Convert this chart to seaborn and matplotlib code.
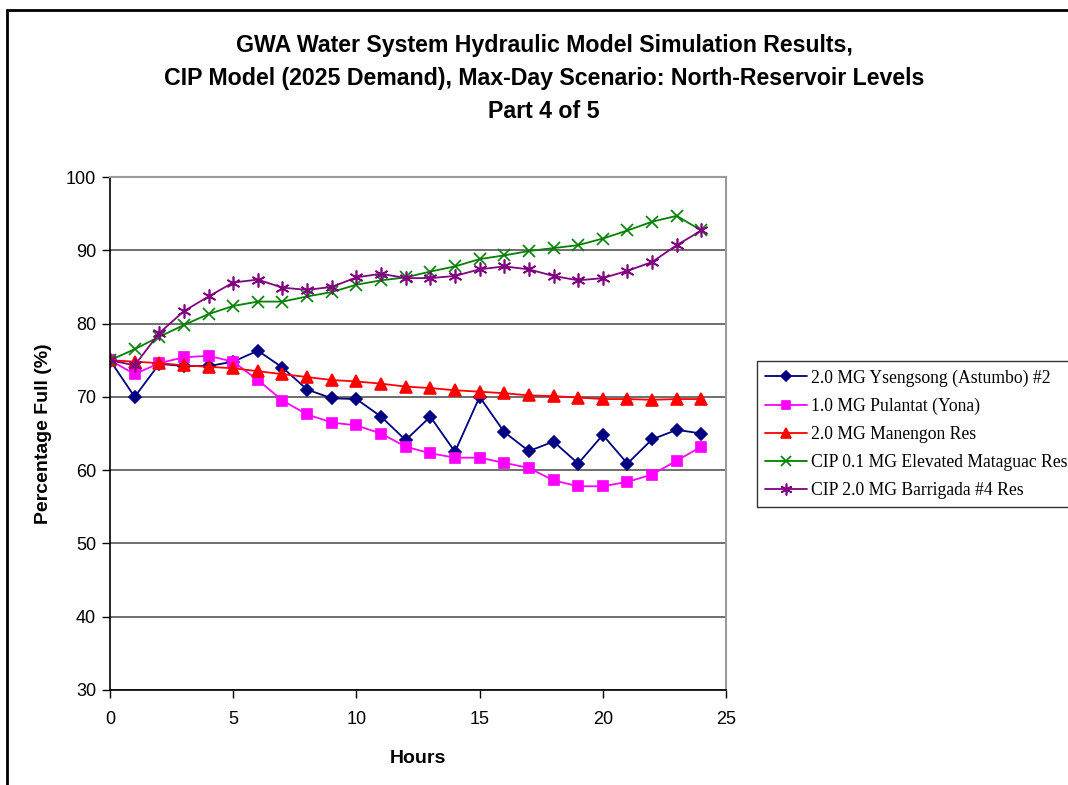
import numpy as np
import pandas as pd
import matplotlib
matplotlib.use("Agg")
import matplotlib.pyplot as plt
import seaborn as sns
from matplotlib.lines import Line2D

hours = list(range(25))
ysengsong = [75, 70, 74.5, 74.2, 74.2, 74.8, 76.3, 74, 71, 69.8, 69.7, 67.3, 64.1, 67.3, 62.5,
             70, 65.2, 62.6, 63.9, 60.9, 64.8, 60.9, 64.2, 65.5, 65]
pulantat = [75, 73.1, 74.6, 75.4, 75.6, 74.8, 72.3, 69.5, 67.6, 66.5, 66.1, 65, 63.2, 62.3, 61.7,
            61.7, 61, 60.3, 58.6, 57.8, 57.8, 58.4, 59.4, 61.3, 63.2]
manengon = [75, 74.8, 74.6, 74.3, 74.1, 73.9, 73.5, 73.1, 72.7, 72.3, 72.1, 71.8, 71.4, 71.2, 70.9,
            70.7, 70.5, 70.2, 70.1, 69.9, 69.7, 69.7, 69.6, 69.7, 69.7]
mataguac = [75, 76.5, 78.2, 79.8, 81.3, 82.4, 83, 83, 83.7, 84.3, 85.3, 85.9, 86.3, 87.1, 87.8,
            88.8, 89.3, 89.9, 90.3, 90.7, 91.6, 92.7, 93.9, 94.7, 92.7]
barrigada = [75, 74.3, 78.7, 81.7, 83.7, 85.6, 86, 84.9, 84.6, 85, 86.3, 86.8, 86.2, 86.2, 86.5,
             87.4, 87.8, 87.4, 86.5, 85.9, 86.2, 87.2, 88.4, 90.7, 92.7]

series_names = ["2.0 MG Ysengsong (Astumbo) #2", "1.0 MG Pulantat (Yona)", "2.0 MG Manengon Res",
                "CIP 0.1 MG Elevated Mataguac Res", "CIP 2.0 MG Barrigada #4 Res"]
series_values = [ysengsong, pulantat, manengon, mataguac, barrigada]
colors = ["#000080", "#FF00FF", "#FF0000", "#008000", "#800080"]
markers = ["D", "s", "^", "x", (6, 2, 0)]
msizes = [6.5, 7.5, 8.5, 9, 10]

title = ("GWA Water System Hydraulic Model Simulation Results,\n"
         "CIP Model (2025 Demand), Max-Day Scenario: North-Reservoir Levels\n"
         "Part 4 of 5")

sns.set_style("white")
plt.rcParams['font.family'] = ['Liberation Sans', 'DejaVu Sans']
plt.rcParams['text.color'] = 'black'
plt.rcParams['axes.labelcolor'] = 'black'

rows = []
for name, vals in zip(series_names, series_values):
    for h, v in zip(hours, vals):
        rows.append({"Hours": h, "Value": v, "Series": name})
df = pd.DataFrame(rows)

fig = plt.figure(figsize=(10.68, 7.85), dpi=100)
ax = fig.add_axes([110/1068, 1-690/785, (726-110)/1068, (690-177)/785])

for name, col, mk, ms in zip(series_names, colors, markers, msizes):
    sub = df[df["Series"] == name]
    sns.lineplot(data=sub, x="Hours", y="Value", ax=ax, color=col, marker=mk,
                 markersize=ms, linewidth=1.3, label=name,
                 markeredgecolor=col, markerfacecolor=col, markeredgewidth=1.2)

ax.set_xlim(0, 25)
ax.set_ylim(30, 100)
ax.set_xticks([0, 5, 10, 15, 20, 25])
ax.set_yticks([30, 40, 50, 60, 70, 80, 90, 100])
ax.yaxis.grid(True, color="#555555", linewidth=1.2)
ax.set_axisbelow(True)
ax.tick_params(axis="both", direction="out", length=6, width=1, colors="black",
               labelsize=13, left=True, bottom=True)
ax.tick_params(axis="x", pad=9)
ax.tick_params(axis="y", pad=4)
for s in ["left", "bottom"]:
    ax.spines[s].set_color("black")
    ax.spines[s].set_linewidth(1.2)
for s in ["top", "right"]:
    ax.spines[s].set_color("#999999")
    ax.spines[s].set_linewidth(1.5)

ax.set_xlabel("Hours", fontsize=14, fontweight="bold", labelpad=16)
ax.set_ylabel("Percentage Full (%)", fontsize=14, fontweight="bold", labelpad=10)

fig.text(544/1068, 1-78.5/785, title, ha="center", va="center", fontsize=16.7,
         fontweight="bold", linespacing=1.55, color="black")

leg = ax.legend(loc="center left", bbox_to_anchor=(757/1068, 1-434/785),
                bbox_transform=fig.transFigure, frameon=True, fancybox=False,
                edgecolor="black", prop={"family": "Liberation Serif", "size": 12.7},
                handlelength=2.4, labelspacing=0.62, borderpad=0.45, handletextpad=0.2,
                borderaxespad=0, markerscale=0.85)
leg.get_frame().set_linewidth(1.0)

fig.add_artist(Line2D([7/1068, 1.0], [1-10/785, 1-10/785], transform=fig.transFigure,
                      color="black", linewidth=2))
fig.add_artist(Line2D([7/1068, 7/1068], [0, 1-10/785], transform=fig.transFigure,
                      color="black", linewidth=2))

fig.savefig("out.png", dpi=100, facecolor="white")
